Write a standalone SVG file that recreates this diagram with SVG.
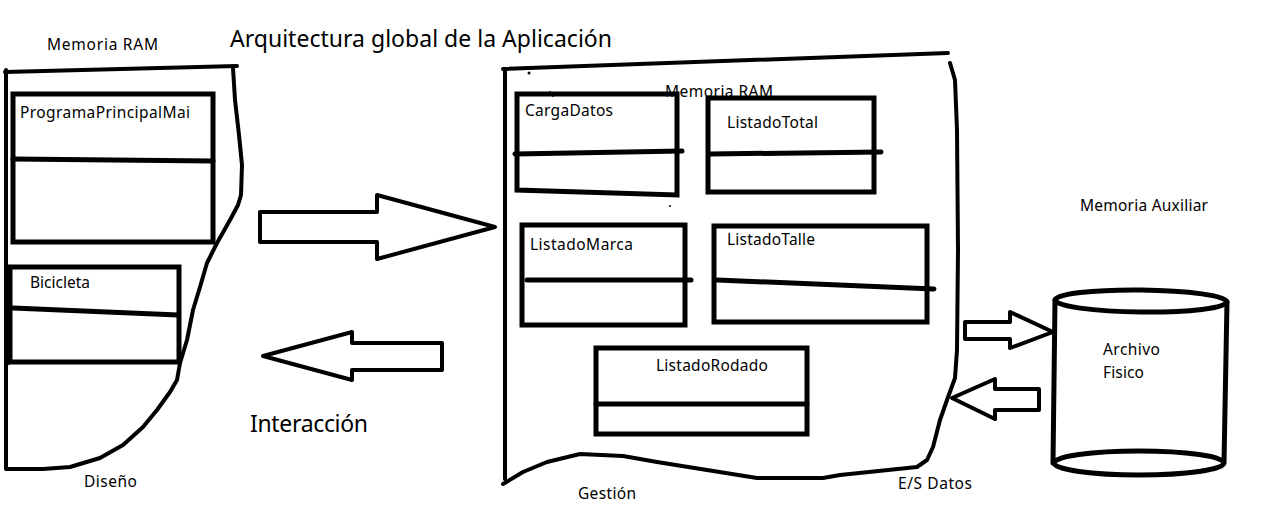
<svg xmlns="http://www.w3.org/2000/svg" width="1274" height="529" viewBox="0 0 1274 529">
<style>
  .ln { fill: none; stroke: #000; stroke-width: 4; stroke-linejoin: round; stroke-linecap: round; }
  .bx { fill: none; stroke: #000; stroke-width: 5; stroke-linejoin: miter; stroke-linecap: round; }
  .ar { fill: #fff; stroke: #000; stroke-width: 4; stroke-linejoin: round; }
  .t { font-family: "Noto Sans", "Open Sans", sans-serif; font-size: 15.5px; fill: #000; }
  .tl { font-family: "Noto Sans", "Open Sans", sans-serif; font-size: 23px; fill: #000; }
</style>
<rect width="1274" height="529" fill="#fff"/>

<text class="tl" x="230" y="47" textLength="382">Arquitectura global de la Aplicación</text>
<text class="tl" x="250" y="432" textLength="118">Interacción</text>

<g id="panel-diseno">
  <text class="t" x="47" y="50" textLength="111">Memoria RAM</text>
  <path class="ln" d="M5,72 L237,66"/>
  <path class="ln" d="M6,70 L6,469"/>
  <path class="ln" d="M233,68 L235,100 L239,135 L242,165 L241,195 L238,205 L230,220 L217,243 L207,263 L200,287 L193,310 L187,340 L180,363 L177,380 L170,392 L157,410 L143,427 L123,445 L100,458 L70,467 L43,469 L7,469"/>
  <text class="t" x="84" y="487" textLength="53">Diseño</text>
</g>

<g id="node-programa">
  <rect class="bx" x="13" y="94" width="200" height="148"/>
  <path class="bx" d="M13,159 L213,161"/>
  <text class="t" x="20" y="118" textLength="170">ProgramaPrincipalMai</text>
</g>

<g id="node-bicicleta">
  <rect class="bx" x="10" y="267" width="169" height="95"/>
  <path class="ln" d="M8,268 L8,362" style="stroke-width:6"/>
  <path class="bx" d="M13,308 L178,315"/>
  <text class="t" x="30" y="288" textLength="60">Bicicleta</text>
</g>

<g id="panel-gestion">
  <path class="ln" d="M503,69 L948,53"/>
  <path class="ln" d="M505,70 L505,479"/>
  <path class="ln" d="M950,63 L955,80 L957,130 L958,250 L957,350 L955,378 L947,400 L940,420 L933,447 L927,460 L917,467 L840,475 L823,478 L757,478 L707,470 L657,462 L623,456 L580,454 L547,462 L523,472 L503,484"/>
  <text class="t" x="665" y="97" textLength="108">Memoria RAM</text>
  <text class="t" x="578" y="499" textLength="58">Gestión</text>
  <text class="t" x="898" y="489" textLength="74">E/S Datos</text>
  <circle cx="529" cy="73" r="1.5" fill="#000"/>
  <circle cx="670" cy="206" r="1" fill="#000"/>
</g>

<g id="node-cargadatos">
  <path class="bx" d="M517,94 L677,94 L677,195 L517,190 Z"/>
  <path class="bx" d="M515,154 L682,151"/>
  <path class="ln" d="M523,93 L540,93 M550,92 L553,96" style="stroke-width:2"/>
  <text class="t" x="525" y="116" textLength="88">CargaDatos</text>
</g>

<g id="node-listadototal">
  <rect class="bx" x="708" y="98" width="166" height="94"/>
  <path class="bx" d="M710,154 L881,152"/>
  <text class="t" x="727" y="128" textLength="91">ListadoTotal</text>
</g>

<g id="node-listadomarca">
  <rect class="bx" x="522" y="225" width="163" height="100"/>
  <path class="bx" d="M527,280 L691,280"/>
  <text class="t" x="530" y="250" textLength="103">ListadoMarca</text>
</g>

<g id="node-listadotalle">
  <rect class="bx" x="714" y="226" width="213" height="96"/>
  <path class="bx" d="M717,280 L934,289"/>
  <text class="t" x="727" y="245" textLength="88">ListadoTalle</text>
</g>

<g id="node-listadorodado">
  <rect class="bx" x="596" y="348" width="211" height="86"/>
  <path class="bx" d="M596,404 L807,404"/>
  <text class="t" x="656" y="371" textLength="112">ListadoRodado</text>
</g>

<g id="node-archivo">
  <text class="t" x="1080" y="211" textLength="128">Memoria Auxiliar</text>
  <path class="bx" d="M1055,300 L1053,463"/>
  <path class="bx" d="M1227,302 L1224,462"/>
  <ellipse class="bx" cx="1141" cy="301" rx="86" ry="11" transform="rotate(0.6 1141 301)"/>
  <ellipse class="bx" cx="1139" cy="463" rx="85" ry="12"/>
  <text class="t" x="1103" y="355" textLength="57">Archivo</text>
  <text class="t" x="1103" y="378" textLength="41">Fisico</text>
</g>

<g id="connectors">
  <path class="ar" d="M260,212 L377,212 L377,195 L495,227 L377,259 L377,242 L260,242 Z"/>
  <path class="ar" d="M442,343 L352,343 L352,332 L263,356 L352,380 L352,370 L442,370 Z"/>
  <path class="ar" d="M965,322 L1010,322 L1010,312 L1053,332 L1010,348 L1010,339 L965,339 Z"/>
  <path class="ar" d="M1039,389 L995,389 L995,379 L952,398 L995,419 L995,410 L1039,410 Z"/>
</g>
</svg>
